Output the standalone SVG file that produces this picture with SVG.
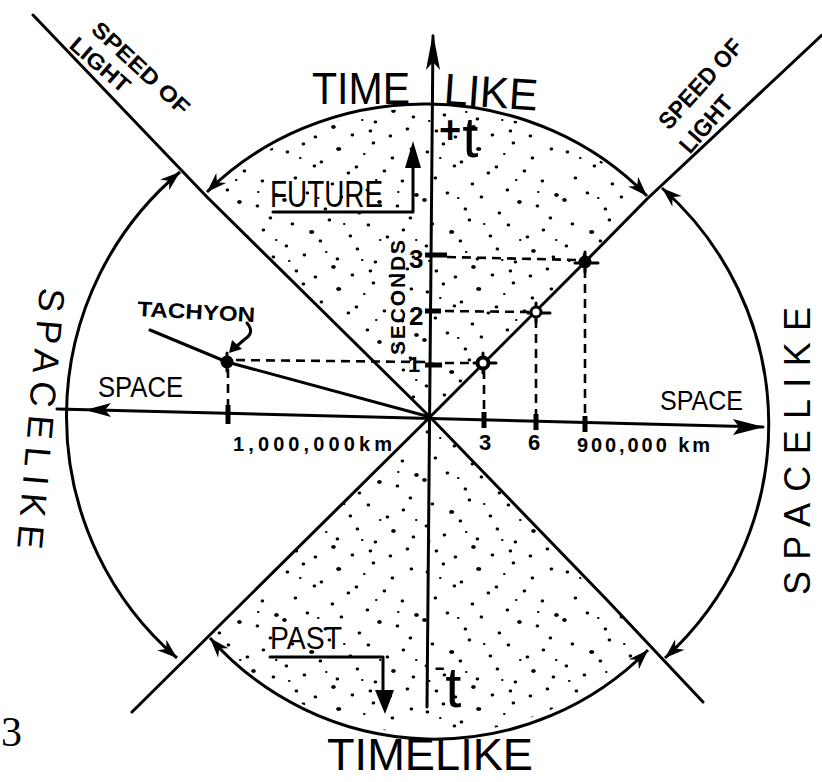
<svg xmlns="http://www.w3.org/2000/svg" width="822" height="782" viewBox="0 0 822 782">
<style>
.ln{fill:none;stroke:#000;stroke-width:3;stroke-linecap:round;stroke-linejoin:round}
.dash{fill:none;stroke:#000;stroke-width:2.6;stroke-dasharray:9 6}
.tick{fill:none;stroke:#000;stroke-width:5}
.arc{fill:none;stroke:#000;stroke-width:3;marker-start:url(#ah);marker-end:url(#ah)}
.lbl{font-family:"Liberation Sans",Arial,sans-serif;fill:#000}
.b{font-weight:bold}
</style>
<defs>
<pattern id="stip" patternUnits="userSpaceOnUse" width="140" height="140">
<path d="M7,12h.8M23,4h.8M41,22h.8M58,9h.8M76,27h.8M93,3h.8M112,18h.8M131,9h.8M15,38h.8M34,26h.8M52,44h.8M68,33h.8M87,50h.8M104,31h.8M122,41h.8M136,55h.8M4,60h.8M27,53h.8M45,69h.8M61,57h.8M79,73h.8M99,62h.8M117,66h.8M130,78h.8M12,84h.8M31,92h.8M49,80h.8M70,96h.8M88,85h.8M107,97h.8M123,90h.8M6,106h.8M24,115h.8M40,101h.8M57,119h.8M77,109h.8M95,122h.8M113,111h.8M133,117h.8M16,131h.8M35,137h.8M53,127h.8M72,135h.8M90,131h.8M110,136h.8M127,129h.8" stroke="#000" stroke-width="2.8" stroke-linecap="round"/>
<path d="M20,18h.5M84,14h.5M118,52h.5M38,58h.5M96,40h.5M64,84h.5M9,121h.5M100,100h.5M46,112h.5M82,120h.5M136,100h.5" stroke="#000" stroke-width="2" stroke-linecap="round"/>
<path d="M58,9h1.5M99,62h1M31,92h1.5M113,111h1M53,127h1M4,60h1M136,55h1" stroke="#000" stroke-width="3.6" stroke-linecap="round"/>
</pattern>
<marker id="ah" markerUnits="userSpaceOnUse" viewBox="0 0 22 16" markerWidth="22" markerHeight="16" refX="21" refY="8" orient="auto-start-reverse">
<path d="M21,8 L1,1 L7,8 L1,15 Z" fill="#000"/>
</marker>
</defs>
<rect width="822" height="782" fill="#fff"/>

<g id="regions">
<path id="future-cone" d="M430,417 L207,197 A300,281 0 0 1 647,199 L585,262 Z" fill="url(#stip)"/>
<path id="past-cone" d="M430,417 L210,635 A300,300 0 0 0 647,644 L607,600 Z" fill="url(#stip)"/>
</g>

<g id="connectors">
<path id="light-line-1" class="ln" d="M33,15 L207,197 L430,417 L607,600 L703,702"/>
<path id="light-line-2" class="ln" d="M132,712 L430,417 L585,262 L647,199 L822,35"/>
<path id="time-axis" class="ln" d="M433,36 L427,707"/>
<polygon points="433,33 426,70 433,62 440,70" fill="#000"/>
<path id="space-axis" class="ln" d="M57,409 L763,427"/>
<polygon points="85,410 111,403 105,410 111,417" fill="#000"/>
<polygon points="764,427 733,419 739,427 733,435" fill="#000"/>
<path id="arc-top" class="arc" d="M207,192 A300,281 0 0 1 647,196"/>
<path id="arc-left" class="arc" d="M180,172 A313,317 0 0 0 177,658"/>
<path id="arc-right" class="arc" d="M662,188 A320,317 0 0 1 665,658"/>
<path id="arc-bottom" class="arc" d="M210,638 A300,300 0 0 0 648,650"/>
<path id="tachyon-line" class="ln" d="M150,330 L227,362 L430,417"/>
<path id="future-arrow" class="ln" d="M273,212 H413 V166"/>
<polygon points="413,141 405,168 421,168" fill="#000"/>
<path id="past-arrow" class="ln" d="M270,657 H383 V692"/>
<polygon points="385,714 375,690 394,690" fill="#000"/>
<path id="tachyon-pointer" class="ln" d="M247,323 C253,330 251,335 245,339 L238,345"/>
<polygon points="229,353 232,340 242,349" fill="#000"/>
</g>

<g id="guides">
<path class="dash" d="M447,257 L578,260 M445,311 L530,312 M445,363 L477,363 M425,362 L234,360 M585,269 L585,418 M536,319 L536,418 M484,370 L484,418 M228,369 L228,408"/>
<path class="tick" d="M425,255 H447 M425,311 H441 M425,365 H442 M228,405 V424 M484,412 V428 M536,414 V430 M585,416 V432"/>
</g>

<g id="events">
<g id="event-3"><path class="ln" d="M585,252 V272 M575,263 H598"/><circle cx="585" cy="262" r="6.5" fill="#000"/></g>
<g id="event-2"><path class="ln" d="M536,303 V322 M528,313 H550"/><circle cx="536" cy="312" r="5" fill="#fff" stroke="#000" stroke-width="3"/></g>
<g id="event-1"><path class="ln" d="M483,353 V373 M474,363 H496"/><circle cx="483" cy="363" r="5.5" fill="#fff" stroke="#000" stroke-width="4"/></g>
<g id="tachyon-event"><path class="ln" d="M227,353 V371"/><circle cx="227" cy="362" r="6.5" fill="#000"/></g>
</g>

<g id="labels">
<text class="lbl b" font-size="22" textLength="125" lengthAdjust="spacingAndGlyphs" transform="translate(90,31) rotate(43)">SPEED OF</text>
<text class="lbl b" font-size="22" textLength="72" lengthAdjust="spacingAndGlyphs" transform="translate(68,47) rotate(41)">LIGHT</text>
<text class="lbl b" font-size="24" textLength="112" lengthAdjust="spacingAndGlyphs" transform="translate(669,131) rotate(-48)">SPEED OF</text>
<text class="lbl b" font-size="24" textLength="68" lengthAdjust="spacingAndGlyphs" transform="translate(690,155) rotate(-49)">LIGHT</text>
<text class="lbl" font-size="44" x="312" y="104" textLength="98" lengthAdjust="spacingAndGlyphs">TIME</text>
<text class="lbl" font-size="44" textLength="94" lengthAdjust="spacingAndGlyphs" transform="translate(443,104) rotate(4)">LIKE</text>
<text class="lbl" x="439" y="157"><tspan class="b" font-size="38" dy="-14">+</tspan><tspan font-size="58" dy="14" dx="1">t</tspan></text>
<text class="lbl" font-size="36" x="270" y="207" textLength="113" lengthAdjust="spacingAndGlyphs">FUTURE</text>
<text class="lbl b" font-size="21" textLength="115" transform="translate(405,355) rotate(-90)">SECONDS</text>
<text class="lbl b" font-size="26" x="409" y="268">3</text>
<text class="lbl b" font-size="26" x="409" y="325">2</text>
<text class="lbl b" font-size="22" x="408" y="372">1</text>
<text class="lbl b" font-size="21" textLength="118" lengthAdjust="spacingAndGlyphs" transform="translate(137,316) rotate(3)">TACHYON</text>
<text class="lbl" font-size="30" x="98" y="397" textLength="85" lengthAdjust="spacingAndGlyphs">SPACE</text>
<text class="lbl" font-size="28" x="660" y="410" textLength="83" lengthAdjust="spacingAndGlyphs">SPACE</text>
<text class="lbl b" font-size="20" x="233" y="451" textLength="159">1,000,000km</text>
<text class="lbl b" font-size="22" x="479" y="450">3</text>
<text class="lbl b" font-size="22" x="528" y="450">6</text>
<text class="lbl b" font-size="20" x="577" y="452" textLength="133">900,000 km</text>
<text class="lbl" font-size="36" textLength="262" transform="translate(40,287) rotate(95)">SPACELIKE</text>
<text class="lbl" font-size="36" textLength="288" transform="translate(810,595) rotate(-90)">SPACELIKE</text>
<text class="lbl" font-size="32" x="270" y="649" textLength="72" lengthAdjust="spacingAndGlyphs">PAST</text>
<text class="lbl" x="434" y="707"><tspan font-size="34" dy="-29">-</tspan><tspan font-size="58" dy="29">t</tspan></text>
<text class="lbl" font-size="44" x="327" y="770" textLength="206" lengthAdjust="spacingAndGlyphs">TIMELIKE</text>
<text font-family="Liberation Serif,serif" font-size="42" x="1" y="746">3</text>
</g>
</svg>
